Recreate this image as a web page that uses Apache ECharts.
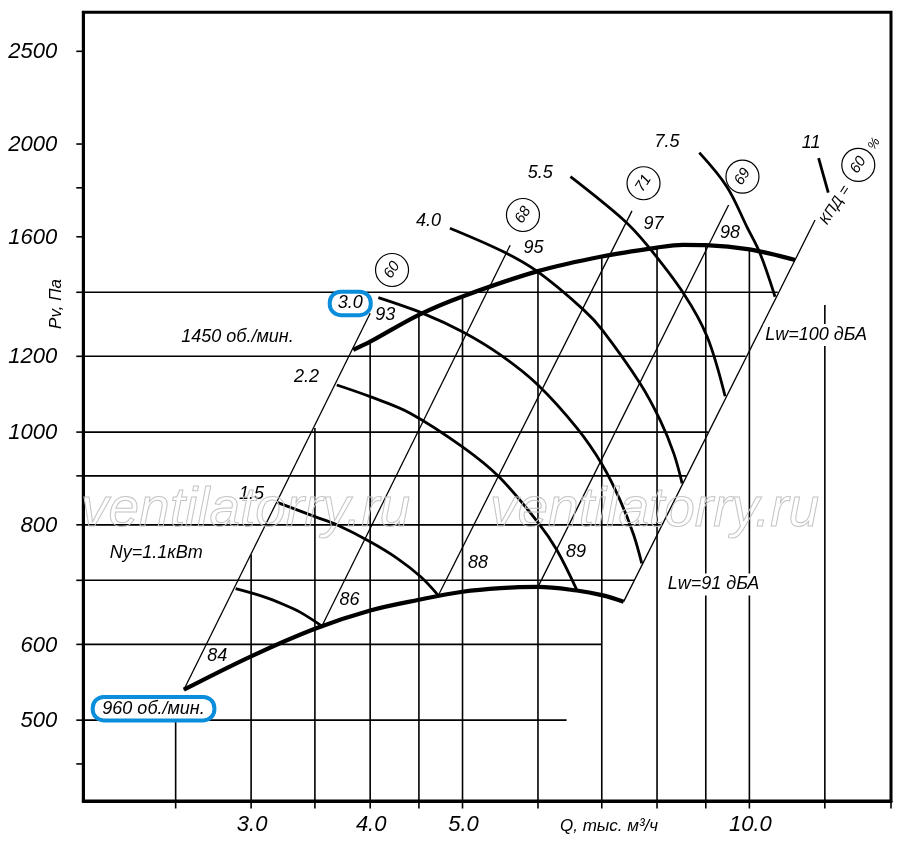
<!DOCTYPE html>
<html>
<head>
<meta charset="utf-8">
<script src="https://cdn.jsdelivr.net/npm/echarts@6.0.0/dist/echarts.min.js"></script>
<style>
html,body{margin:0;padding:0;background:#fff;}
#chart{width:900px;height:856px;}
</style>
</head>
<body>
<div id="chart"></div>
<script>
// ---------- axis extents & ticks ----------
const qRange = [2.0, 14.08];
const pRange = [411.6, 2746];
const xTickValues = [2.5, 3, 3.5, 4, 4.5, 5, 6, 7, 8, 9, 10, 12, 14.08];
const xLabelValues = [3, 4, 5, 10];
const xLabelTexts = ['3.0', '4.0', '5.0', '10.0'];
const yTickValues = [450, 500, 600, 700, 800, 900, 1000, 1200, 1400, 1600, 1800, 2000, 2500];
const yLabelValues = [500, 600, 800, 1000, 1200, 1600, 2000, 2500];

// ---------- partial grid lines ----------
const vGridQ = [2.5, 3, 3.5, 4, 4.5, 5, 6, 7, 8, 9, 10, 12];
const vGridTopP = [500, 745, 1010, 1238, 1326, 1386, 1473, 1526, 1559, 1568, 1552, 1358];
const hGridP = [500, 600, 700, 800, 900, 1000, 1200, 1400];
const hGridEndQ = [6.43, 7.0, 7.57, 8.09, 8.59, 9.05, 9.91, 10.71];

// ---------- fan characteristics (rpm) ----------
const rpm960Q = [2.55, 3.0, 3.5, 4.0, 4.5, 5.0, 5.48, 6.0, 6.59, 7.0, 7.38];
const rpm960P = [538, 583, 623, 651, 668, 681, 687, 689, 683, 675.5, 665];
const rpm1450Q = [3.84, 4.0, 4.5, 5.0, 6.0, 7.0, 8.0, 8.52, 9.0, 10.0, 11.17];
const rpm1450P = [1219, 1243, 1326, 1386, 1473, 1526, 1559, 1569, 1568, 1552, 1513];

// ---------- power curves Ny, kW ----------
const pw11Q = [2.89, 3.09, 3.25, 3.38, 3.56];
const pw11P = [686, 673, 660, 648, 627];
const pw15Q = [3.20, 3.50, 3.69, 4.00, 4.27, 4.52, 4.71];
const pw15P = [844, 816, 800, 768, 738, 706, 676];
const pw22Q = [3.69, 4.00, 4.41, 5.00, 5.46, 6.01, 6.28, 6.59];
const pw22P = [1120, 1089, 1046, 965, 898, 803, 753, 684];
const pw30Q = [4.08, 4.55, 5.00, 5.48, 6.00, 6.59, 7.01, 7.32, 7.56, 7.71];
const pw30P = [1382, 1330, 1273, 1204, 1120, 1010, 924, 848, 781, 729];
const pw40Q = [4.85, 5.52, 6.00, 6.70, 7.01, 7.68, 8.06, 8.33, 8.50];
const pw40P = [1633, 1543, 1470, 1342, 1278, 1124, 1029, 950, 884];
const pw55Q = [6.49, 7.38, 7.81, 8.53, 9.03, 9.43];
const pw55P = [1849, 1666, 1568, 1396, 1258, 1090];
const pw75Q = [8.86, 9.47, 9.94, 10.26, 10.64];
const pw75P = [1959, 1805, 1639, 1538, 1385];
const pw110Q = [11.82, 12.10];
const pw110P = [1933, 1779];

// ---------- system lines (Lw) ----------
const lwBottomQ = [2.55, 3.56, 4.72, 6.00, 7.38];
const lwBottomP = [538, 627, 676, 689, 665];
const lwTopQ = [4.00, 5.61, 7.53, 9.51, 11.72];
const lwTopP = [1331, 1568, 1703, 1727, 1666];

// ---------- annotations [Q, P, text] ----------
const powerLabels = [
  [2.385, 748, 'Ny=1.1кВт'], [3.003, 861, '1.5'], [3.429, 1142, '2.2'],
  [4.606, 1663, '4.0'], [6.034, 1864, '5.5'], [8.195, 2011, '7.5'], [11.607, 2006, '11']
];
const rpmLabels = [[2.903, 1257, '1450 об./мин.']];
const boxedLabels = [[3.812, 1363, '3.0'], [2.370, 514, '960 об./мин.']];
const lwLabels = [
  [2.764, 583, '84'], [3.806, 667, '86'], [5.191, 729, '88'], [6.576, 750, '89'],
  [4.149, 1325, '93'], [5.937, 1556, '95'], [7.933, 1650, '97'], [9.545, 1613, '98']
];
const lwEdgeLabels = [[9.169, 693, 'Lw=91 дБА'], [11.749, 1263, 'Lw=100 дБА']];
const effCircles = [
  [4.217, 1477, '60'], [5.786, 1686, '68'], [7.743, 1820, '71'], [9.834, 1849, '69'], [13.01, 1902, '60']
];
const kpdLabels = [[12.303, 1727, 'КПД ='], [13.517, 2000, '%']];

// ---------- rendering ----------
const FONT = 'Liberation Sans';
const chart = echarts.init(document.getElementById('chart'));

function pairs(Q, P) { return Q.map((q, i) => [q, P[i]]); }

function segSeries(segs, width, z) {
  return {
    type: 'custom', coordinateSystem: 'cartesian2d', silent: true, z: z, clip: false,
    data: segs, encode: { x: [0, 2], y: [1, 3] },
    renderItem(params, api) {
      const a = api.coord([api.value(0), api.value(1)]);
      const b = api.coord([api.value(2), api.value(3)]);
      return { type: 'line', shape: { x1: a[0], y1: a[1], x2: b[0], y2: b[1] },
        style: { stroke: '#000', lineWidth: width } };
    }
  };
}

function curve(Q, P, width) {
  return {
    type: 'line', data: pairs(Q, P), smooth: 0.35, showSymbol: false, symbol: 'none',
    lineStyle: { color: '#000', width: width }, silent: true, z: 5, animation: false
  };
}

function textStyle(text, size, extra) {
  return Object.assign({
    text: text, fill: '#000', fontSize: size, fontFamily: FONT, fontStyle: 'italic',
    align: 'center', verticalAlign: 'middle', textAlign: 'center', textVerticalAlign: 'middle'
  }, extra || {});
}

function labelSeries(items, size, extra) {
  return {
    type: 'custom', coordinateSystem: 'cartesian2d', silent: true, z: 8, clip: false,
    data: items.map(l => [l[0], l[1]]), encode: { x: 0, y: 1 },
    renderItem(params, api) {
      const c = api.coord([api.value(0), api.value(1)]);
      return { type: 'text', x: c[0], y: c[1], style: textStyle(items[params.dataIndex][2], size, extra) };
    }
  };
}

const vSegs = vGridQ.map((q, i) => [q, pRange[0], q, vGridTopP[i]]);
const hSegs = hGridP.map((p, i) => [qRange[0], p, hGridEndQ[i], p]);
const dSegs = lwBottomQ.map((q, i) => [q, lwBottomP[i], lwTopQ[i], lwTopP[i]]);

const boxW = [41, 121.7];

const series = [
  segSeries(vSegs, 1.6, 2),
  segSeries(hSegs, 1.6, 2),
  segSeries(dSegs, 1.3, 3),
  curve(rpm960Q, rpm960P, 4.2),
  curve(rpm1450Q, rpm1450P, 4.2),
  curve(pw11Q, pw11P, 2.8),
  curve(pw15Q, pw15P, 2.8),
  curve(pw22Q, pw22P, 2.8),
  curve(pw30Q, pw30P, 2.8),
  curve(pw40Q, pw40P, 2.8),
  curve(pw55Q, pw55P, 2.8),
  curve(pw75Q, pw75P, 2.8),
  curve(pw110Q, pw110P, 2.8),
  // axis ticks
  {
    type: 'custom', coordinateSystem: 'cartesian2d', silent: true, z: 6, clip: false,
    data: xTickValues.map(q => [q, pRange[0]]), encode: { x: 0, y: 1 },
    renderItem(params, api) {
      const c = api.coord([api.value(0), api.value(1)]);
      return { type: 'line', shape: { x1: c[0], y1: c[1], x2: c[0], y2: c[1] + 7.5 },
        style: { stroke: '#000', lineWidth: 1.6 } };
    }
  },
  {
    type: 'custom', coordinateSystem: 'cartesian2d', silent: true, z: 6, clip: false,
    data: yTickValues.map(p => [qRange[0], p]), encode: { x: 0, y: 1 },
    renderItem(params, api) {
      const c = api.coord([api.value(0), api.value(1)]);
      return { type: 'line', shape: { x1: c[0], y1: c[1], x2: c[0] - 7, y2: c[1] },
        style: { stroke: '#000', lineWidth: 1.6 } };
    }
  },
  // axis tick labels
  {
    type: 'custom', coordinateSystem: 'cartesian2d', silent: true, z: 6, clip: false,
    data: xLabelValues.map(q => [q, pRange[0]]), encode: { x: 0, y: 1 },
    renderItem(params, api) {
      const c = api.coord([api.value(0), api.value(1)]);
      return { type: 'text', x: c[0] + 1, y: c[1] + 24, style: textStyle(xLabelTexts[params.dataIndex], 22) };
    }
  },
  {
    type: 'custom', coordinateSystem: 'cartesian2d', silent: true, z: 6, clip: false,
    data: yLabelValues.map(p => [qRange[0], p]), encode: { x: 0, y: 1 },
    renderItem(params, api) {
      const c = api.coord([api.value(0), api.value(1)]);
      return { type: 'text', x: c[0] - 26, y: c[1] + 1,
        style: textStyle(String(yLabelValues[params.dataIndex]), 22, { align: 'right', textAlign: 'right' }) };
    }
  },
  // labels
  labelSeries(powerLabels, 18),
  labelSeries(rpmLabels, 18),
  labelSeries(lwLabels, 18),
  labelSeries(lwEdgeLabels, 18, { backgroundColor: '#fff', padding: [2, 2] }),
  // boxed labels
  {
    type: 'custom', coordinateSystem: 'cartesian2d', silent: true, z: 9, clip: false,
    data: boxedLabels.map(l => [l[0], l[1]]), encode: { x: 0, y: 1 },
    renderItem(params, api) {
      const c = api.coord([api.value(0), api.value(1)]);
      const w = boxW[params.dataIndex], h = 23.5;
      return { type: 'group', children: [
        { type: 'rect', shape: { x: c[0] - w / 2, y: c[1] - h / 2, width: w, height: h, r: 11 },
          style: { fill: '#fff', stroke: '#0a8ddb', lineWidth: 4 } },
        { type: 'text', x: c[0], y: c[1], style: textStyle(boxedLabels[params.dataIndex][2], 18) }
      ] };
    }
  },
  // efficiency circles
  {
    type: 'custom', coordinateSystem: 'cartesian2d', silent: true, z: 9, clip: false,
    data: effCircles.map(l => [l[0], l[1]]), encode: { x: 0, y: 1 },
    renderItem(params, api) {
      const c = api.coord([api.value(0), api.value(1)]);
      return { type: 'group', children: [
        { type: 'circle', shape: { cx: c[0], cy: c[1], r: 16.5 },
          style: { fill: 'none', stroke: '#000', lineWidth: 1.2 } },
        { type: 'text', x: c[0], y: c[1], rotation: 57 * Math.PI / 180,
          style: textStyle(effCircles[params.dataIndex][2], 15) }
      ] };
    }
  },
  {
    type: 'custom', coordinateSystem: 'cartesian2d', silent: true, z: 9, clip: false,
    data: kpdLabels.map(l => [l[0], l[1]]), encode: { x: 0, y: 1 },
    renderItem(params, api) {
      const c = api.coord([api.value(0), api.value(1)]);
      return { type: 'text', x: c[0], y: c[1], rotation: 57 * Math.PI / 180,
        style: textStyle(kpdLabels[params.dataIndex][2], params.dataIndex === 0 ? 15 : 13) };
    }
  }
];

const axisCommon = {
  type: 'log', logBase: 10,
  axisLine: { show: true, onZero: false, lineStyle: { color: '#000', width: 3 } },
  axisTick: { show: false }, axisLabel: { show: false },
  splitLine: { show: false }, minorTick: { show: false }, minorSplitLine: { show: false }
};

const wmStyle = {
  font: 'italic 55px "Liberation Sans"', fill: 'none', stroke: '#c4c4c4', lineWidth: 1,
  align: 'left', verticalAlign: 'bottom', textAlign: 'left', textVerticalAlign: 'bottom'
};

chart.setOption({
  animation: false,
  backgroundColor: '#fff',
  grid: { left: 83.3, right: 9, top: 12.3, bottom: 55, show: true, borderColor: '#000', borderWidth: 3,
    backgroundColor: 'transparent' },
  xAxis: Object.assign({ min: qRange[0], max: qRange[1] }, axisCommon),
  yAxis: Object.assign({ min: pRange[0], max: pRange[1] }, axisCommon),
  series: series,
  graphic: [
    { type: 'text', x: 81, y: 538, z: 20, silent: true, style: Object.assign({ text: 'ventilatorry.ru' }, wmStyle) },
    { type: 'text', x: 490, y: 538, z: 20, silent: true, style: Object.assign({ text: 'ventilatorry.ru' }, wmStyle) },
    { type: 'text', x: 56, y: 304, rotation: Math.PI / 2, z: 20, silent: true,
      style: textStyle('Pv, Па', 17) },
    { type: 'text', x: 560, y: 826, z: 20, silent: true,
      style: textStyle('Q, тыс. м³/ч', 17, { align: 'left', textAlign: 'left' }) }
  ]
});
</script>
</body>
</html>
